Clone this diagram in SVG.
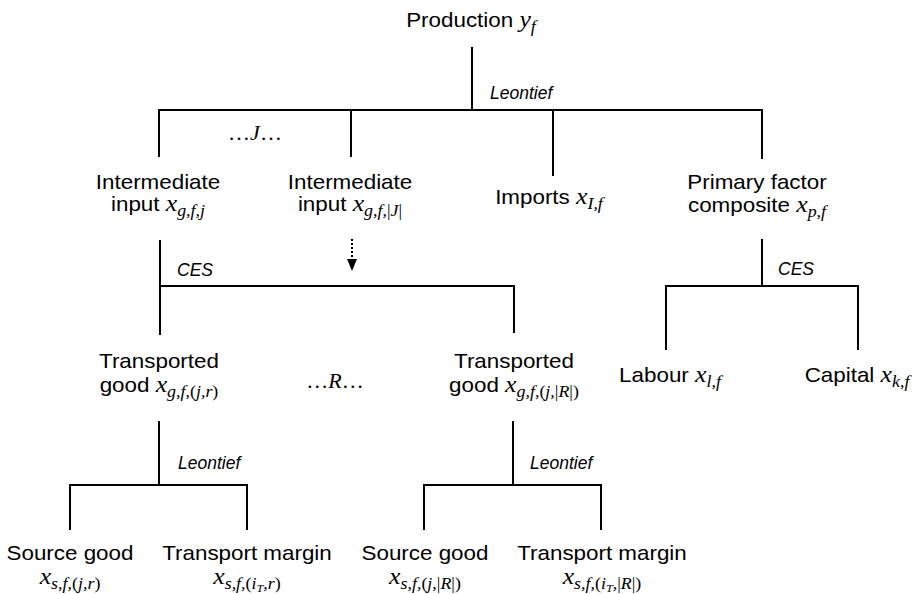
<svg xmlns="http://www.w3.org/2000/svg" width="919" height="594" viewBox="0 0 919 594">
<style>
.t{font-family:"Liberation Sans",Arial,sans-serif;font-size:20px;fill:#000;text-anchor:middle}
.m{font-family:"Liberation Serif","Times New Roman",serif;font-style:italic;font-size:23px}
.s{font-family:"Liberation Serif","Times New Roman",serif;font-style:italic;font-size:16px}
.u{font-family:"Liberation Serif","Times New Roman",serif;font-style:normal;font-size:16px}
.ss{font-family:"Liberation Serif","Times New Roman",serif;font-style:italic;font-size:11px}
.e{font-family:"Liberation Serif","Times New Roman",serif;font-size:22px;fill:#000;text-anchor:middle}
.lab{font-family:"Liberation Sans",Arial,sans-serif;font-style:italic;font-size:17.5px;fill:#000}
.ln{fill:none;stroke:#000;stroke-width:2}
</style>
<defs>
<marker id="ah" markerWidth="12" markerHeight="10" refX="12" refY="5" orient="auto" markerUnits="userSpaceOnUse" viewBox="0 0 12 10">
<path d="M0,0 L12,5 L0,10 Z" fill="#000"/>
</marker>
</defs>
<rect width="919" height="594" fill="#fff"/>

<g id="connectors">
<path class="ln" d="M472 47 V110"/>
<path class="ln" d="M158 110 H763"/>
<path class="ln" d="M159 110 V157"/>
<path class="ln" d="M351 110 V157"/>
<path class="ln" d="M553 110 V176"/>
<path class="ln" d="M762 110 V159"/>
<path class="ln" d="M160 240 V335"/>
<path class="ln" d="M160 286 H514 V333"/>
<path class="ln" d="M352 239 V271" stroke-dasharray="2,2" marker-end="url(#ah)"/>
<path class="ln" d="M762 239 V286"/>
<path class="ln" d="M666 350 V286 H858 V350"/>
<path class="ln" d="M159 421 V485"/>
<path class="ln" d="M70 530 V485 H247 V530"/>
<path class="ln" d="M513 421 V485"/>
<path class="ln" d="M424 530 V485 H601 V530"/>
<text class="lab" x="490" y="99">Leontief</text>
<text class="lab" x="177" y="276">CES</text>
<text class="lab" x="778" y="275">CES</text>
<text class="lab" x="178" y="469">Leontief</text>
<text class="lab" x="530" y="469">Leontief</text>
<text class="e" x="255" y="140">…<tspan font-style="italic">J</tspan>…</text>
<text class="e" x="335" y="388">…<tspan font-style="italic">R</tspan>…</text>
</g>

<g id="production" transform="translate(471,0) scale(1.12,1)">
<text class="t" x="0" y="27">Production <tspan class="m">y</tspan><tspan class="s" dy="5">f</tspan></text>
</g>

<g id="intermediate1" transform="translate(158,0) scale(1.12,1)">
<text class="t" x="0" y="189">Intermediate</text>
<text class="t" x="0" y="211">input <tspan class="m">x</tspan><tspan class="s" dy="5">g,f,j</tspan></text>
</g>

<g id="intermediate2" transform="translate(350,0) scale(1.12,1)">
<text class="t" x="0" y="189">Intermediate</text>
<text class="t" x="0" y="211">input <tspan class="m">x</tspan><tspan class="s" dy="5">g,f,</tspan><tspan class="u">|</tspan><tspan class="s">J</tspan><tspan class="u">|</tspan></text>
</g>

<g id="imports" transform="translate(549,0) scale(1.12,1)">
<text class="t" x="0" y="204">Imports <tspan class="m">x</tspan><tspan class="s" dy="5">I,f</tspan></text>
</g>

<g id="primary" transform="translate(757,0) scale(1.12,1)">
<text class="t" x="0" y="189">Primary factor</text>
<text class="t" x="0" y="212">composite <tspan class="m">x</tspan><tspan class="s" dy="5">p,f</tspan></text>
</g>

<g id="transported1" transform="translate(159,0) scale(1.12,1)">
<text class="t" x="0" y="368">Transported</text>
<text class="t" x="0" y="392">good <tspan class="m">x</tspan><tspan class="s" dy="5">g,f,</tspan><tspan class="u">(</tspan><tspan class="s">j,r</tspan><tspan class="u">)</tspan></text>
</g>

<g id="transported2" transform="translate(514,0) scale(1.12,1)">
<text class="t" x="0" y="368">Transported</text>
<text class="t" x="0" y="392">good <tspan class="m">x</tspan><tspan class="s" dy="5">g,f,</tspan><tspan class="u">(</tspan><tspan class="s">j,</tspan><tspan class="u">|</tspan><tspan class="s">R</tspan><tspan class="u">|)</tspan></text>
</g>

<g id="labour" transform="translate(670,0) scale(1.12,1)">
<text class="t" x="0" y="382">Labour <tspan class="m">x</tspan><tspan class="s" dy="5">l,f</tspan></text>
</g>

<g id="capital" transform="translate(857,0) scale(1.12,1)">
<text class="t" x="0" y="382">Capital <tspan class="m">x</tspan><tspan class="s" dy="5">k,f</tspan></text>
</g>

<g id="source1" transform="translate(70,0) scale(1.12,1)">
<text class="t" x="0" y="560">Source good</text>
<text class="t" x="0" y="584"><tspan class="m">x</tspan><tspan class="s" dy="5">s,f,</tspan><tspan class="u">(</tspan><tspan class="s">j,r</tspan><tspan class="u">)</tspan></text>
</g>

<g id="margin1" transform="translate(247,0) scale(1.12,1)">
<text class="t" x="0" y="560">Transport margin</text>
<text class="t" x="0" y="584"><tspan class="m">x</tspan><tspan class="s" dy="5">s,f,</tspan><tspan class="u">(</tspan><tspan class="s">i</tspan><tspan class="ss" dy="3">T</tspan><tspan class="s" dy="-3">,r</tspan><tspan class="u">)</tspan></text>
</g>

<g id="source2" transform="translate(425,0) scale(1.12,1)">
<text class="t" x="0" y="560">Source good</text>
<text class="t" x="0" y="584"><tspan class="m">x</tspan><tspan class="s" dy="5">s,f,</tspan><tspan class="u">(</tspan><tspan class="s">j,</tspan><tspan class="u">|</tspan><tspan class="s">R</tspan><tspan class="u">|)</tspan></text>
</g>

<g id="margin2" transform="translate(602,0) scale(1.12,1)">
<text class="t" x="0" y="560">Transport margin</text>
<text class="t" x="0" y="584"><tspan class="m">x</tspan><tspan class="s" dy="5">s,f,</tspan><tspan class="u">(</tspan><tspan class="s">i</tspan><tspan class="ss" dy="3">T</tspan><tspan class="s" dy="-3">,</tspan><tspan class="u">|</tspan><tspan class="s">R</tspan><tspan class="u">|)</tspan></text>
</g>
</svg>
